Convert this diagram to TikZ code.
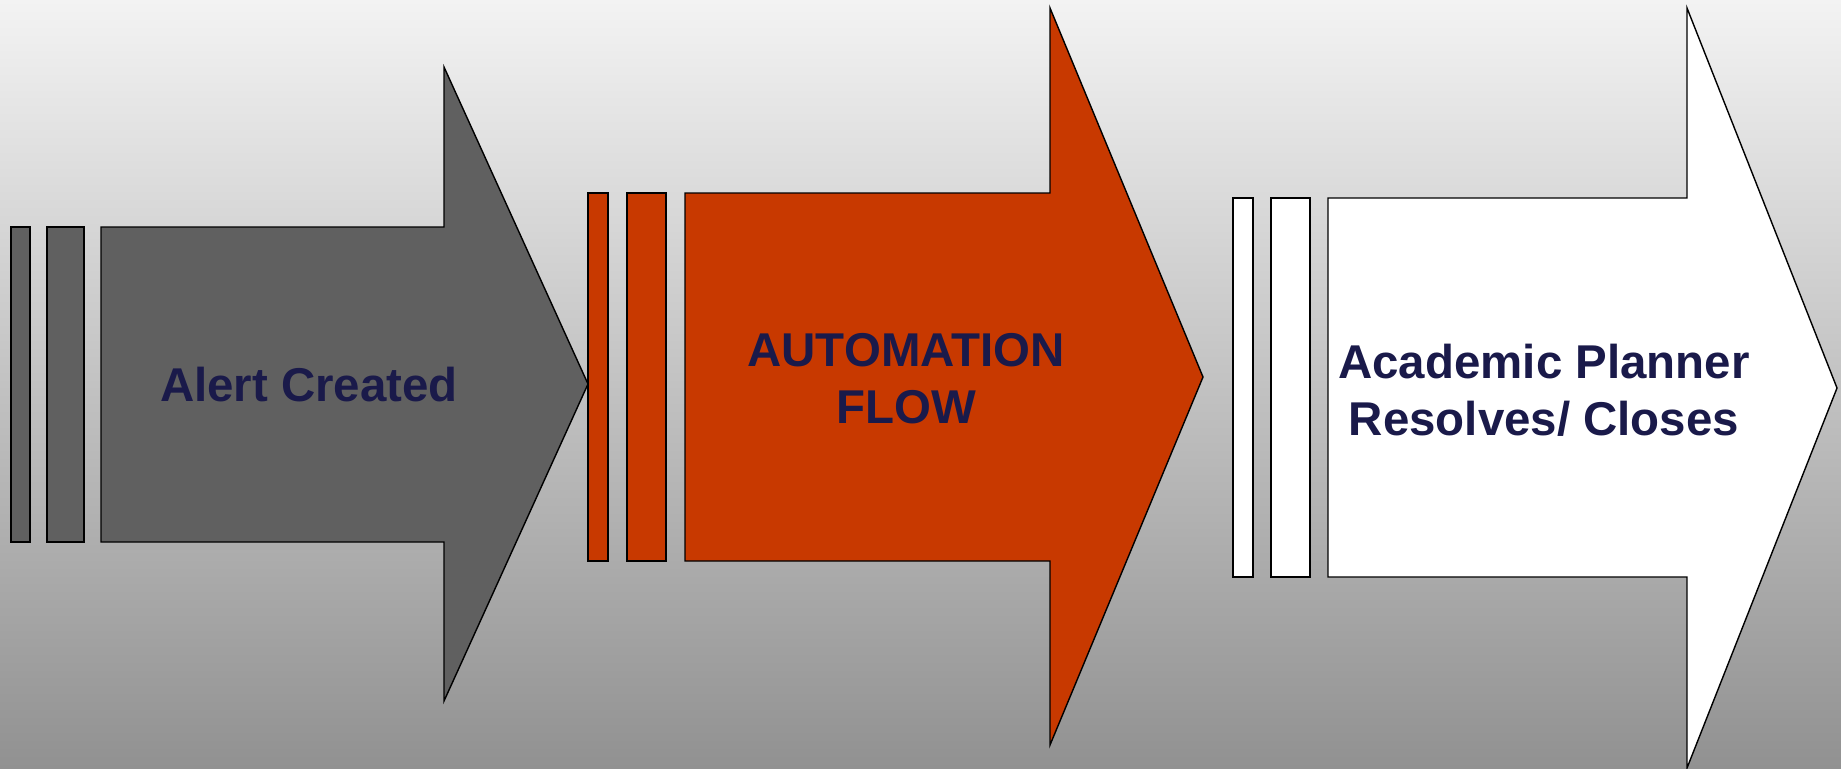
\documentclass[tikz,border=0pt]{standalone}
\usepackage{fontspec}
\setmainfont{Liberation Sans}
\usepackage{tikz}
\usetikzlibrary{positioning}
\definecolor{bgtop}{RGB}{243,243,243}
\definecolor{bgbot}{RGB}{145,145,145}
\definecolor{stepgray}{RGB}{96,96,96}
\definecolor{steporange}{RGB}{200,57,0}
\definecolor{navytext}{RGB}{26,26,74}

\begin{document}
\begin{tikzpicture}[x=0.02cm, y=-0.02cm,
    block/.style={draw=black, line width=0.8pt, line join=miter},
    caption/.style={font=\bfseries\fontsize{27}{32.3}\selectfont, text=navytext,
                    align=center, inner sep=0pt}]
  \useasboundingbox (0,0) rectangle (1841,768);
  \shade[top color=bgtop, bottom color=bgbot] (0,0) rectangle (1841,768);

  % stage 1: alert
  \draw[block, fill=stepgray] (11,227) rectangle (30,542);
  \draw[block, fill=stepgray] (47,227) rectangle (84,542);
  \draw[block, fill=stepgray] (101,227) -- (444,227) -- (444,67) -- (588,384)
        -- (444,701) -- (444,542) -- (101,542) -- cycle;

  % stage 2: automation
  \draw[block, fill=steporange] (588,193) rectangle (608,561);
  \draw[block, fill=steporange] (627,193) rectangle (666,561);
  \draw[block, fill=steporange] (685,193) -- (1050,193) -- (1050,8) -- (1203,377)
        -- (1050,745) -- (1050,561) -- (685,561) -- cycle;

  % stage 3: planner
  \draw[block, fill=white] (1233,198) rectangle (1253,577);
  \draw[block, fill=white] (1271,198) rectangle (1310,577);
  \draw[block, fill=white] (1328,198) -- (1687,198) -- (1687,8) -- (1837,388)
        -- (1687,768) -- (1687,577) -- (1328,577) -- cycle;

  \node[caption] (alert)    at (309,385)  {Alert Created};
  \node[caption] (autoflow) at (906,379)  {AUTOMATION\\FLOW};
  \node[caption] (planner)  at (1544,390) {Academic Planner\\Resolves/ Closes};
\end{tikzpicture}
\end{document}
